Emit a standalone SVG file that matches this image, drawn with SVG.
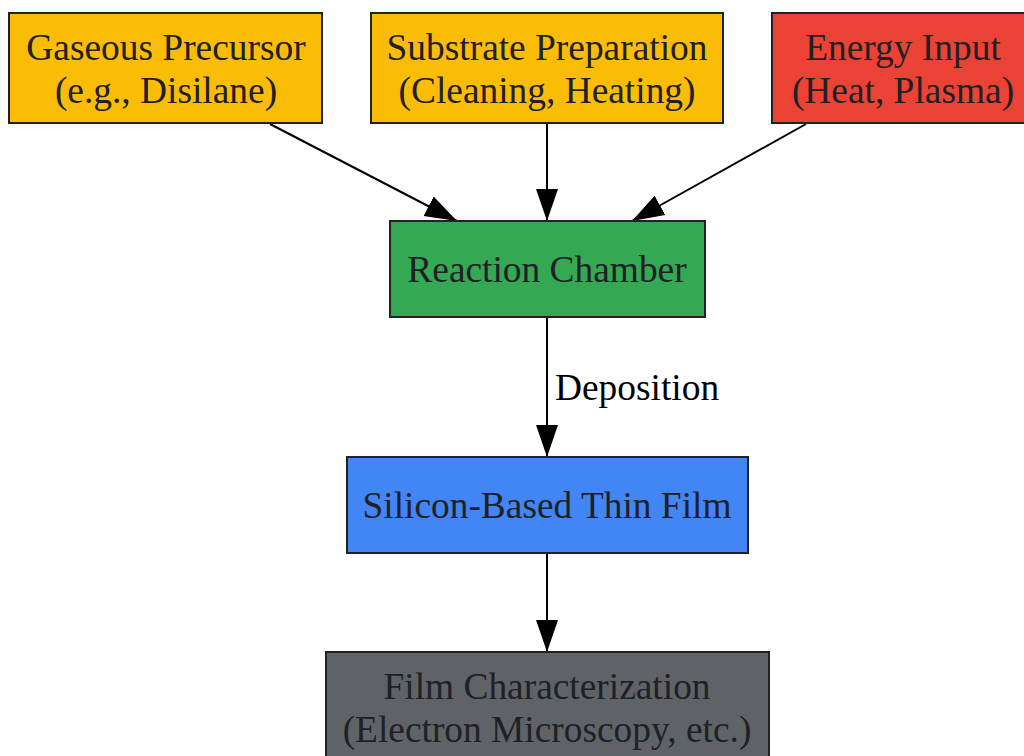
<svg xmlns="http://www.w3.org/2000/svg" width="1024" height="756" viewBox="0 0 1024 756">
<style>
.box{stroke:#222222;stroke-width:2}
.t{font-family:"Liberation Serif","Times New Roman",serif;font-size:37.4px;fill:#202124;text-anchor:middle}
.lbl{font-family:"Liberation Serif","Times New Roman",serif;font-size:37.4px;fill:#000000}
.edge{stroke:#000000;stroke-width:2;fill:none}
</style>
<defs>
<marker id="arr" markerUnits="userSpaceOnUse" markerWidth="32" markerHeight="24" viewBox="0 0 32 24" refX="32" refY="12" orient="auto">
<path d="M0,1 L32,12 L0,23 z" fill="#000000"/>
</marker>
</defs>
<rect width="1024" height="756" fill="#ffffff"/>
<g id="edges">
<path class="edge" d="M270,124 L457,221" marker-end="url(#arr)"/>
<path class="edge" d="M547,124 L547,221" marker-end="url(#arr)"/>
<path class="edge" d="M806,124 L632,221" marker-end="url(#arr)"/>
<path class="edge" d="M547,318 L547,457" marker-end="url(#arr)"/>
<text class="lbl" x="555" y="400">Deposition</text>
<path class="edge" d="M547,554 L547,652" marker-end="url(#arr)"/>
</g>
<g id="gaseous">
<rect class="box" x="9" y="13" width="313" height="110" fill="#FBBC05"/>
<text class="t" x="166" y="60">Gaseous Precursor</text>
<text class="t" x="166" y="103">(e.g., Disilane)</text>
</g>
<g id="substrate">
<rect class="box" x="371" y="13" width="352" height="110" fill="#FBBC05"/>
<text class="t" x="547" y="60">Substrate Preparation</text>
<text class="t" x="547" y="103">(Cleaning, Heating)</text>
</g>
<g id="energy">
<rect class="box" x="772" y="13" width="262" height="110" fill="#EA4335"/>
<text class="t" x="903" y="60">Energy Input</text>
<text class="t" x="903" y="103">(Heat, Plasma)</text>
</g>
<g id="reaction">
<rect class="box" x="390" y="221" width="315" height="96" fill="#34A853"/>
<text class="t" x="547" y="282">Reaction Chamber</text>
</g>
<g id="silicon">
<rect class="box" x="347" y="457" width="401" height="96" fill="#4285F4"/>
<text class="t" x="547" y="518">Silicon-Based Thin Film</text>
</g>
<g id="film">
<rect class="box" x="326" y="652" width="443" height="110" fill="#5F6368"/>
<text class="t" x="547" y="699">Film Characterization</text>
<text class="t" x="547" y="742">(Electron Microscopy, etc.)</text>
</g>
</svg>
